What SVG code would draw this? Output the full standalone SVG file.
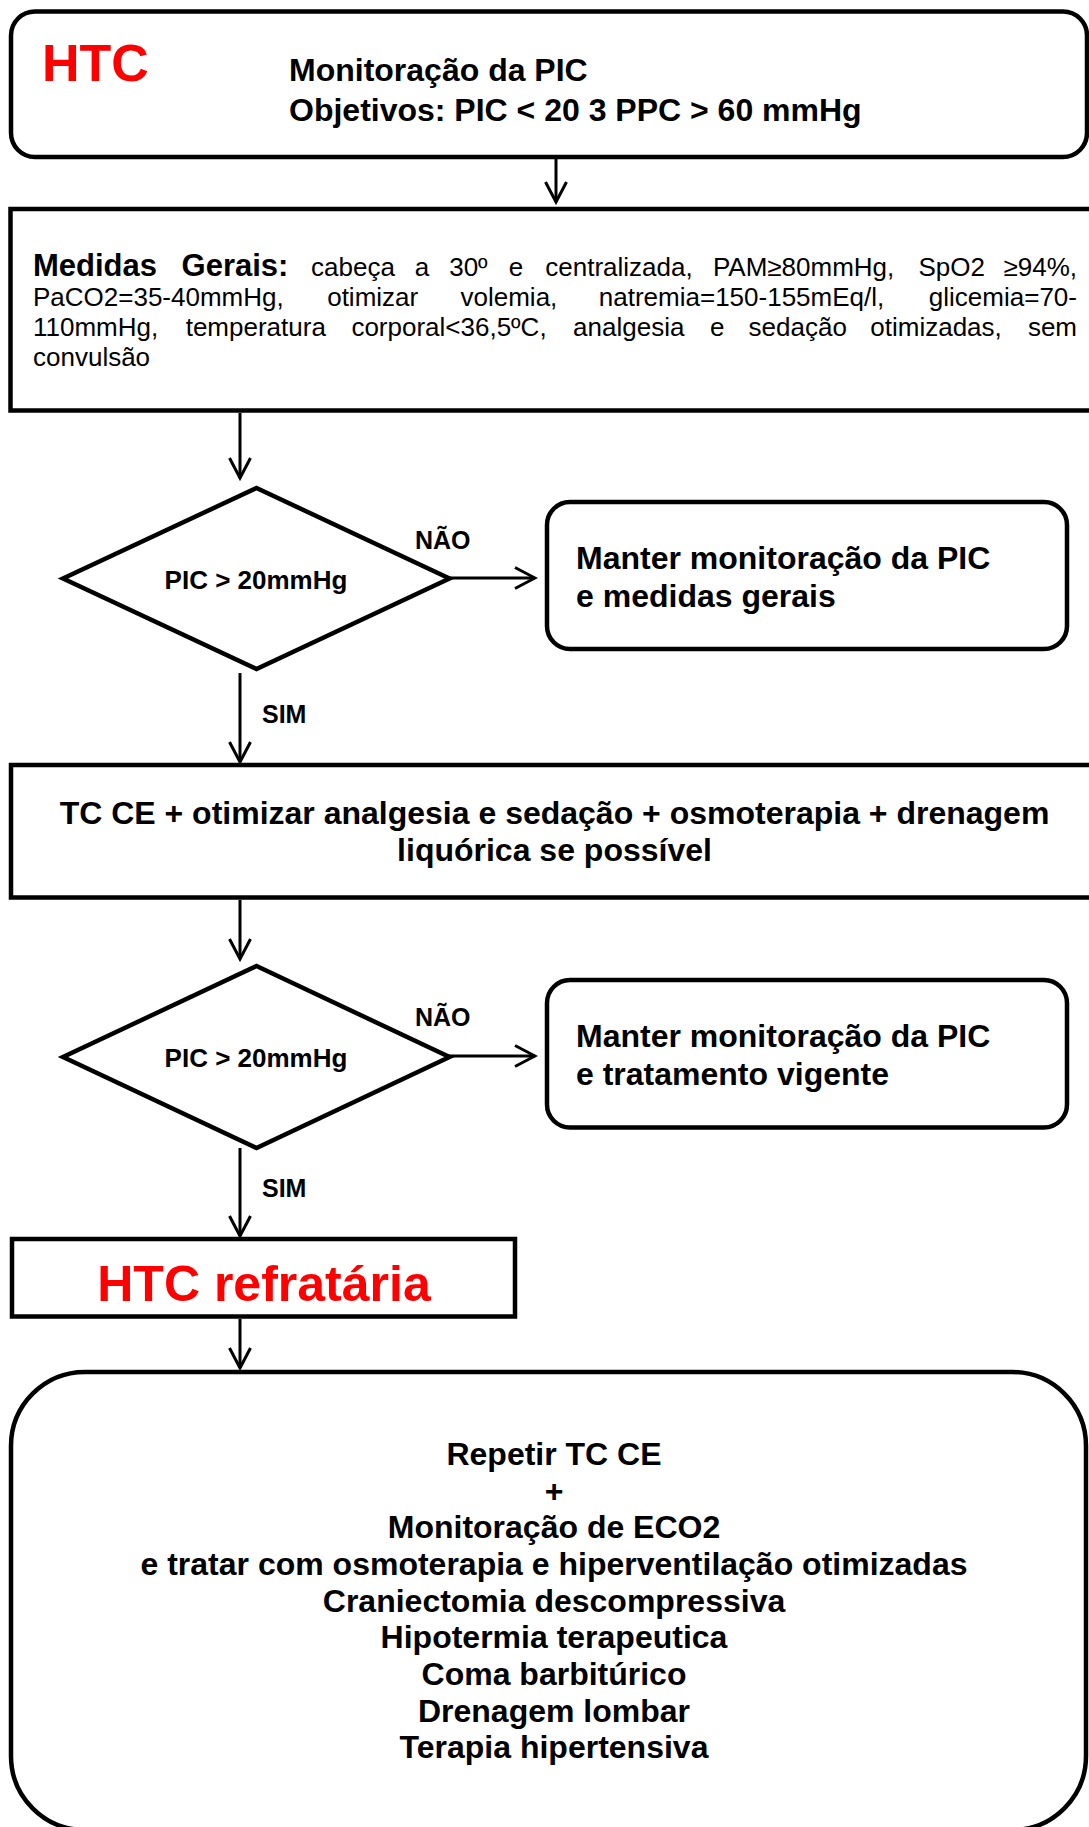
<svg xmlns="http://www.w3.org/2000/svg" width="1089" height="1827" viewBox="0 0 1089 1827">
<style>
.box{fill:#fff;stroke:#000;stroke-width:4.5}
.dia{fill:#fff;stroke:#000;stroke-width:4.5;stroke-linejoin:miter}
.b{font-family:"Liberation Sans",Arial,sans-serif;font-weight:bold;fill:#000}
.r{font-family:"Liberation Sans",Arial,sans-serif;fill:#000}
.red{fill:#ff0000}
.conn{stroke:#000;stroke-width:3;fill:none}
.lab{font-family:"Liberation Sans",Arial,sans-serif;font-weight:bold;font-size:25px;fill:#000}
</style>
<defs>
<marker id="arr" markerUnits="userSpaceOnUse" viewBox="0 0 24 24" markerWidth="24" markerHeight="24" refX="21" refY="12" orient="auto">
<path d="M1,1.5 L21,12 L1,22.5" fill="none" stroke="#000" stroke-width="3"/>
</marker>
</defs>

<g id="connectors">
<path class="conn" d="M556,159 L556,202" marker-end="url(#arr)"/>
<path class="conn" d="M240,413 L240,478" marker-end="url(#arr)"/>
<path class="conn" d="M417,578 L535,578" marker-end="url(#arr)"/>
<path class="conn" d="M240,673 L240,762" marker-end="url(#arr)"/>
<path class="conn" d="M240,900 L240,959" marker-end="url(#arr)"/>
<path class="conn" d="M417,1056 L535,1056" marker-end="url(#arr)"/>
<path class="conn" d="M240,1148 L240,1236" marker-end="url(#arr)"/>
<path class="conn" d="M240,1319 L240,1368" marker-end="url(#arr)"/>
<text class="lab" x="415" y="549">NÃO</text>
<text class="lab" x="262" y="723">SIM</text>
<text class="lab" x="415" y="1026">NÃO</text>
<text class="lab" x="262" y="1197">SIM</text>
</g>

<g id="node-htc">
<rect class="box" x="11" y="11.5" width="1076" height="145.5" rx="24" ry="24"/>
<text class="b red" x="42" y="81" font-size="52">HTC</text>
<text class="b" x="289" y="81" font-size="32">Monitoração da PIC</text>
<text class="b" x="289" y="121" font-size="32">Objetivos: PIC &lt; 20 3 PPC &gt; 60 mmHg</text>
</g>

<g id="node-medidas">
<rect class="box" x="10.5" y="209" width="1090" height="201.5"/>
<text class="b" y="276" font-size="31"><tspan x="33">Medidas</tspan><tspan x="181.6">Gerais:</tspan></text>
<text class="r" y="276" font-size="26"><tspan x="311">cabeça</tspan><tspan x="414.7">a</tspan><tspan x="449.2">30º</tspan><tspan x="508.8">e</tspan><tspan x="545.3">centralizada,</tspan><tspan x="712.9">PAM≥80mmHg,</tspan><tspan x="918.4">SpO2</tspan><tspan x="1077" text-anchor="end">≥94%,</tspan></text>
<text class="r" y="306" font-size="26"><tspan x="33">PaCO2=35-40mmHg,</tspan><tspan x="327.2">otimizar</tspan><tspan x="460.5">volemia,</tspan><tspan x="598.8">natremia=150-155mEq/l,</tspan><tspan x="1077" text-anchor="end">glicemia=70-</tspan></text>
<text class="r" y="336" font-size="26"><tspan x="33">110mmHg,</tspan><tspan x="185.7">temperatura</tspan><tspan x="351.4">corporal&lt;36,5ºC,</tspan><tspan x="573.1">analgesia</tspan><tspan x="709.9">e</tspan><tspan x="748.6">sedação</tspan><tspan x="870.3">otimizadas,</tspan><tspan x="1077" text-anchor="end">sem</tspan></text>
<text class="r" x="33" y="366" font-size="26">convulsão</text>
</g>

<g id="node-decision1">
<polygon class="dia" points="256.5,488 449.5,578.5 256.5,669 63,578.5"/>
<text class="b" x="256" y="589" font-size="26" text-anchor="middle">PIC &gt; 20mmHg</text>
</g>

<g id="node-manter1">
<rect class="box" x="547" y="502" width="520" height="147" rx="23" ry="23"/>
<text class="b" x="576" y="569" font-size="32">Manter monitoração da PIC</text>
<text class="b" x="576" y="607" font-size="32">e medidas gerais</text>
</g>

<g id="node-tcce">
<rect class="box" x="11" y="765" width="1090" height="132.5"/>
<text class="b" x="554.5" y="824" font-size="32" text-anchor="middle">TC CE + otimizar analgesia e sedação + osmoterapia + drenagem</text>
<text class="b" x="554.5" y="861" font-size="32" text-anchor="middle">liquórica se possível</text>
</g>

<g id="node-decision2">
<polygon class="dia" points="256.5,966 449.5,1057 256.5,1148 63,1057"/>
<text class="b" x="256" y="1067" font-size="26" text-anchor="middle">PIC &gt; 20mmHg</text>
</g>

<g id="node-manter2">
<rect class="box" x="547" y="980" width="520" height="147.5" rx="23" ry="23"/>
<text class="b" x="576" y="1047" font-size="32">Manter monitoração da PIC</text>
<text class="b" x="576" y="1085" font-size="32">e tratamento vigente</text>
</g>

<g id="node-refrataria">
<rect class="box" x="12" y="1239" width="503" height="77.5"/>
<text class="b red" x="264" y="1301" font-size="50" text-anchor="middle">HTC refratária</text>
</g>

<g id="node-final">
<rect class="box" x="11" y="1372" width="1075" height="458" rx="74" ry="74"/>
<g class="b" font-size="32" text-anchor="middle">
<text x="554" y="1465">Repetir TC CE</text>
<text x="554" y="1501.7">+</text>
<text x="554" y="1538.3">Monitoração de ECO2</text>
<text x="554" y="1575">e tratar com osmoterapia e hiperventilação otimizadas</text>
<text x="554" y="1611.7">Craniectomia descompressiva</text>
<text x="554" y="1648.3">Hipotermia terapeutica</text>
<text x="554" y="1685">Coma barbitúrico</text>
<text x="554" y="1721.7">Drenagem lombar</text>
<text x="554" y="1758.3">Terapia hipertensiva</text>
</g>
</g>
</svg>
